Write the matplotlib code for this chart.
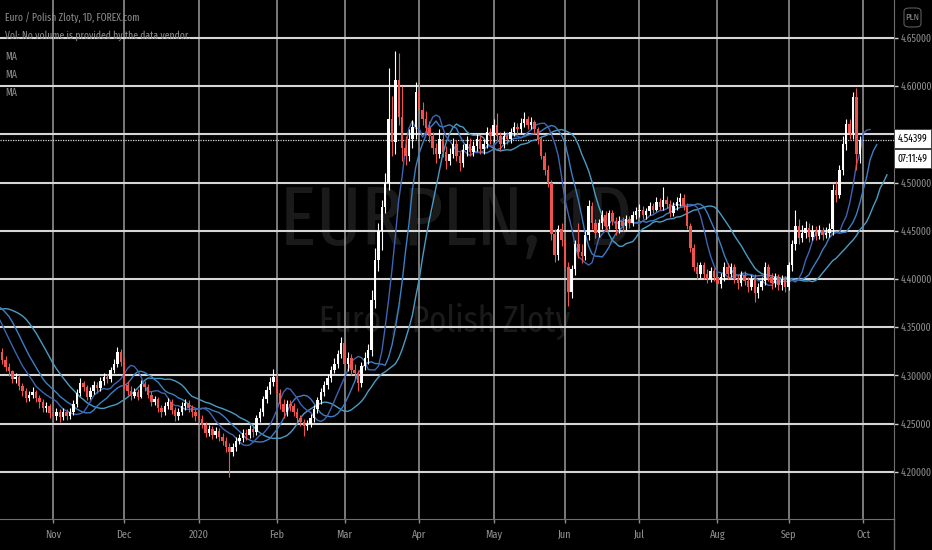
import numpy as np
import pandas as pd
import matplotlib
matplotlib.use('Agg')
import matplotlib.pyplot as plt
from matplotlib.patches import Rectangle, FancyBboxPatch
from matplotlib.lines import Line2D

plt.rcParams['font.family'] = ['Fira Sans Extra Condensed', 'DejaVu Sans']

# closes before the visible window (only feed the moving averages)
history_close = [4.362, 4.366, 4.370, 4.365, 4.362, 4.360, 4.366, 4.372, 4.374, 4.370,
                 4.376, 4.378, 4.372, 4.368, 4.360, 4.352, 4.345, 4.338, 4.330, 4.324]

# visible daily bars, month by month (Oct 11 2019 .. Sep 30 2020)
close_oct = [4.316, 4.309, 4.304, 4.296, 4.298, 4.289, 4.284, 4.276, 4.280, 4.283, 4.276, 4.272, 4.266, 4.268, 4.261]
high_oct = [4.328, 4.320, 4.313, 4.306, 4.302, 4.300, 4.292, 4.287, 4.284, 4.288, 4.285, 4.280, 4.275, 4.272, 4.270]
low_oct = [4.312, 4.305, 4.299, 4.292, 4.292, 4.285, 4.279, 4.272, 4.273, 4.277, 4.272, 4.266, 4.262, 4.262, 4.256]

close_nov = [4.258, 4.262, 4.257, 4.262, 4.258, 4.262, 4.270, 4.282, 4.292, 4.288, 4.278,
             4.284, 4.290, 4.287, 4.294, 4.298, 4.296, 4.306, 4.312, 4.324, 4.314]
high_nov = [4.265, 4.266, 4.265, 4.266, 4.265, 4.266, 4.274, 4.286, 4.297, 4.294, 4.290,
            4.288, 4.294, 4.293, 4.298, 4.302, 4.301, 4.309, 4.317, 4.329, 4.327]
low_nov = [4.253, 4.254, 4.252, 4.254, 4.254, 4.255, 4.259, 4.267, 4.279, 4.284, 4.274,
           4.275, 4.281, 4.282, 4.284, 4.290, 4.292, 4.293, 4.302, 4.309, 4.310]

close_dec = [4.290, 4.284, 4.279, 4.283, 4.278, 4.291, 4.288, 4.280, 4.272, 4.275, 4.266,
             4.262, 4.268, 4.272, 4.264, 4.258, 4.262, 4.268, 4.271, 4.266, 4.262, 4.258]
high_dec = [4.318, 4.294, 4.289, 4.287, 4.286, 4.295, 4.294, 4.291, 4.284, 4.279, 4.278,
            4.269, 4.272, 4.276, 4.275, 4.267, 4.266, 4.272, 4.275, 4.274, 4.269, 4.265]
low_dec = [4.286, 4.280, 4.274, 4.276, 4.274, 4.276, 4.284, 4.276, 4.268, 4.269, 4.262,
           4.257, 4.259, 4.265, 4.260, 4.253, 4.254, 4.259, 4.264, 4.262, 4.257, 4.253]

close_jan = [4.255, 4.248, 4.240, 4.244, 4.238, 4.242, 4.236, 4.232, 4.226, 4.220, 4.226, 4.232,
             4.235, 4.240, 4.238, 4.244, 4.241, 4.256, 4.262, 4.275, 4.285, 4.293, 4.298]
high_jan = [4.262, 4.259, 4.252, 4.248, 4.247, 4.246, 4.245, 4.240, 4.236, 4.230, 4.230, 4.236,
            4.239, 4.244, 4.244, 4.248, 4.247, 4.259, 4.266, 4.279, 4.289, 4.298, 4.307]
low_jan = [4.250, 4.245, 4.236, 4.237, 4.234, 4.235, 4.232, 4.228, 4.221, 4.195, 4.216, 4.222,
           4.229, 4.231, 4.233, 4.235, 4.236, 4.238, 4.252, 4.258, 4.271, 4.281, 4.289]

close_feb = [4.282, 4.270, 4.262, 4.270, 4.268, 4.262, 4.256, 4.252, 4.247, 4.250,
             4.256, 4.265, 4.274, 4.283, 4.290, 4.297, 4.306, 4.312, 4.322, 4.334]
high_feb = [4.302, 4.286, 4.275, 4.274, 4.274, 4.271, 4.266, 4.259, 4.255, 4.254,
            4.260, 4.269, 4.278, 4.287, 4.294, 4.301, 4.310, 4.318, 4.326, 4.340]
low_feb = [4.278, 4.265, 4.256, 4.258, 4.263, 4.258, 4.251, 4.247, 4.237, 4.243,
           4.246, 4.252, 4.261, 4.270, 4.279, 4.286, 4.293, 4.302, 4.308, 4.318]

close_mar = [4.312, 4.318, 4.306, 4.302, 4.292, 4.310, 4.318, 4.326, 4.378, 4.420, 4.450,
             4.475, 4.500, 4.566, 4.542, 4.606, 4.568, 4.536, 4.528, 4.545, 4.558, 4.594]
high_mar = [4.339, 4.324, 4.322, 4.312, 4.306, 4.314, 4.324, 4.332, 4.388, 4.432, 4.458,
            4.482, 4.510, 4.619, 4.590, 4.636, 4.634, 4.600, 4.548, 4.556, 4.565, 4.604]
low_mar = [4.306, 4.305, 4.300, 4.296, 4.284, 4.288, 4.306, 4.312, 4.320, 4.370, 4.408,
           4.430, 4.468, 4.492, 4.528, 4.530, 4.560, 4.522, 4.518, 4.522, 4.536, 4.545]

close_apr = [4.575, 4.566, 4.557, 4.548, 4.536, 4.530, 4.545, 4.532, 4.522, 4.530, 4.540,
             4.528, 4.520, 4.534, 4.540, 4.532, 4.538, 4.545, 4.535, 4.540, 4.552, 4.548]
high_apr = [4.604, 4.584, 4.574, 4.564, 4.552, 4.541, 4.556, 4.550, 4.538, 4.536, 4.546,
            4.544, 4.532, 4.540, 4.548, 4.546, 4.543, 4.550, 4.549, 4.545, 4.558, 4.557]
low_apr = [4.570, 4.560, 4.552, 4.542, 4.530, 4.520, 4.525, 4.526, 4.514, 4.518, 4.525,
           4.522, 4.512, 4.516, 4.528, 4.527, 4.528, 4.533, 4.530, 4.530, 4.536, 4.540]

close_may = [4.560, 4.548, 4.540, 4.548, 4.545, 4.552, 4.558, 4.556, 4.562, 4.566, 4.560,
             4.563, 4.556, 4.545, 4.528, 4.513, 4.500, 4.447, 4.425, 4.452, 4.440]
high_may = [4.566, 4.572, 4.552, 4.553, 4.552, 4.557, 4.563, 4.562, 4.567, 4.573, 4.569,
            4.568, 4.565, 4.558, 4.548, 4.532, 4.518, 4.503, 4.452, 4.456, 4.458]
low_may = [4.542, 4.544, 4.533, 4.536, 4.540, 4.541, 4.548, 4.550, 4.551, 4.558, 4.555,
           4.556, 4.550, 4.540, 4.524, 4.508, 4.495, 4.440, 4.418, 4.420, 4.434]

close_jun = [4.412, 4.386, 4.410, 4.436, 4.428, 4.424, 4.446, 4.476, 4.458, 4.448, 4.458,
             4.466, 4.455, 4.468, 4.460, 4.452, 4.460, 4.455, 4.462, 4.458, 4.466, 4.470]
high_jun = [4.445, 4.418, 4.414, 4.440, 4.458, 4.436, 4.450, 4.482, 4.480, 4.462, 4.462,
            4.472, 4.470, 4.472, 4.471, 4.464, 4.465, 4.464, 4.466, 4.465, 4.470, 4.475]
low_jun = [4.408, 4.372, 4.380, 4.404, 4.422, 4.416, 4.420, 4.440, 4.452, 4.442, 4.444,
           4.452, 4.450, 4.452, 4.456, 4.446, 4.448, 4.450, 4.451, 4.453, 4.455, 4.462]

close_jul = [4.472, 4.466, 4.470, 4.476, 4.472, 4.480, 4.475, 4.482, 4.478, 4.468, 4.476, 4.480,
             4.484, 4.476, 4.455, 4.432, 4.412, 4.405, 4.414, 4.405, 4.400, 4.408, 4.402]
high_jul = [4.478, 4.476, 4.474, 4.480, 4.479, 4.485, 4.484, 4.495, 4.486, 4.482, 4.480, 4.485,
            4.489, 4.488, 4.479, 4.458, 4.436, 4.418, 4.418, 4.418, 4.410, 4.412, 4.411]
low_jul = [4.464, 4.462, 4.462, 4.466, 4.468, 4.470, 4.471, 4.472, 4.474, 4.464, 4.465, 4.472,
           4.476, 4.472, 4.452, 4.428, 4.408, 4.400, 4.401, 4.400, 4.396, 4.397, 4.398]

close_aug = [4.395, 4.402, 4.412, 4.405, 4.412, 4.400, 4.396, 4.404, 4.398, 4.392, 4.400,
             4.385, 4.392, 4.398, 4.412, 4.402, 4.396, 4.402, 4.394, 4.400, 4.392]
high_aug = [4.406, 4.406, 4.418, 4.416, 4.416, 4.415, 4.405, 4.408, 4.408, 4.402, 4.404,
            4.405, 4.396, 4.402, 4.418, 4.415, 4.406, 4.406, 4.405, 4.404, 4.403]
low_aug = [4.390, 4.391, 4.398, 4.400, 4.402, 4.396, 4.390, 4.393, 4.394, 4.386, 4.388,
           4.376, 4.380, 4.388, 4.394, 4.398, 4.390, 4.392, 4.389, 4.389, 4.386]

close_sep = [4.414, 4.436, 4.455, 4.442, 4.448, 4.453, 4.444, 4.450, 4.445, 4.451, 4.446,
             4.448, 4.452, 4.492, 4.487, 4.513, 4.540, 4.561, 4.551, 4.589, 4.530, 4.54399]
high_sep = [4.418, 4.440, 4.471, 4.462, 4.456, 4.460, 4.458, 4.456, 4.455, 4.456, 4.454,
            4.454, 4.458, 4.498, 4.502, 4.518, 4.548, 4.566, 4.566, 4.594, 4.598, 4.548]
low_sep = [4.388, 4.408, 4.430, 4.436, 4.438, 4.442, 4.438, 4.440, 4.440, 4.441, 4.440,
           4.442, 4.444, 4.446, 4.480, 4.484, 4.508, 4.534, 4.545, 4.545, 4.513, 4.520]

price_ticks = [4.20, 4.25, 4.30, 4.35, 4.40, 4.45, 4.50, 4.55, 4.60, 4.65]
last_price = 4.54399
countdown = "07:11:49"

# alligator style moving averages: (period, forward shift, colour)
ma_specs = [(13, 8, '#4a9cc4'), (8, 5, '#3b7fc4'), (5, 3, '#3f64b2')]

months = [close_oct, close_nov, close_dec, close_jan, close_feb, close_mar,
          close_apr, close_may, close_jun, close_jul, close_aug, close_sep]
highs_m = [high_oct, high_nov, high_dec, high_jan, high_feb, high_mar,
           high_apr, high_may, high_jun, high_jul, high_aug, high_sep]
lows_m = [low_oct, low_nov, low_dec, low_jan, low_feb, low_mar,
          low_apr, low_may, low_jun, low_jul, low_aug, low_sep]

vis_close = np.array(sum(months, []))
vis_high = np.array(sum(highs_m, []))
vis_low = np.array(sum(lows_m, []))
close = np.concatenate([history_close, vis_close])
n_hist = len(history_close)
vis_open = close[n_hist - 1:-1]

axis_dates = pd.bdate_range('2019-09-13', '2020-10-30')
idx = np.arange(len(close))
x = idx[n_hist:]

BG = '#000000'
GREY = '#8c8c8c'
fig = plt.figure(figsize=(9.32, 5.5), dpi=100, facecolor=BG)
ax = fig.add_axes([0, 31.3 / 550, 894 / 932, 1 - 31.3 / 550])
ax.set_facecolor(BG)

# x scale: Nov 1 2019 sits 53 px from the left, 3.39 px per bar
nov1 = int(np.where(axis_dates == pd.Timestamp('2019-11-01'))[0][0])
ax.set_xlim(nov1 - 53 / 3.39, nov1 + (894 - 53) / 3.39)
ax.set_ylim(4.1513, 4.6893)

# watermark
ax.text(0.51, 0.528, "EURPLN, 1D", transform=ax.transAxes, fontsize=60,
        color='#1a1a1a', ha='center', va='baseline', zorder=0)
ax.text(0.497, 0.36, "Euro / Polish Zloty", transform=ax.transAxes, fontsize=26,
        color='#1a1a1a', ha='center', va='baseline', zorder=0)

# month ticks
firsts = pd.Series(np.arange(len(axis_dates)), index=axis_dates).groupby(
    [axis_dates.year, axis_dates.month]).first()
lo_x, hi_x = ax.get_xlim()
tick_pos, tick_lab = [], []
for (yr, mo), pos in firsts.items():
    if lo_x < pos < hi_x:
        tick_pos.append(pos)
        tick_lab.append(str(yr) if mo == 1 else pd.Timestamp(yr, mo, 1).strftime('%b'))
ax.set_xticks(tick_pos)
ax.set_xticklabels(tick_lab)
for p in tick_pos:
    ax.axvline(p, color='#9a9a9a', lw=1.1, zorder=1)

# the 4.55 label sits under the last-price box, so it is left blank
ax.set_yticks(price_ticks)
ax.set_yticklabels(['' if abs(v - 4.55) < 1e-9 else '%.5f' % v for v in price_ticks])
for v in price_ticks:
    ax.axhline(v, color='#d6d6d6', lw=1.5, zorder=1)

ax.yaxis.tick_right()
ax.tick_params(axis='y', colors='#d0d0d0', labelcolor=GREY, labelsize=7.5,
               length=3, pad=1.5, width=1)
ax.tick_params(axis='x', colors=GREY, labelcolor=GREY, labelsize=8,
               length=3, pad=5, width=1)
for s in ['top', 'left']:
    ax.spines[s].set_visible(False)
ax.spines['bottom'].set_color('#6e6e6e')
ax.spines['right'].set_color('#6e6e6e')
fig.add_artist(Line2D([894 / 932, 894 / 932], [0, 31.3 / 550], color='#6e6e6e',
                      lw=1, transform=fig.transFigure))

# last price line
ax.axhline(last_price, color='#d8d8d8', lw=0.9, ls=(0, (1, 1)), zorder=2)

# moving averages (simple, shifted forward)
s = pd.Series(close)
for period, shift, col in ma_specs:
    ma = s.rolling(period, min_periods=1).mean()
    ax.plot(idx + shift, ma.values, color=col, lw=1.0, zorder=3)

# candles
up = vis_close >= vis_open
cols = np.where(up, '#ffffff', '#ef5350')
ax.vlines(x, vis_low, vis_high, colors=cols, lw=0.8, zorder=4)
body = np.maximum(np.abs(vis_close - vis_open), 0.0008)
ax.bar(x, body, bottom=np.minimum(vis_open, vis_close), width=0.72,
       color=cols, linewidth=0, zorder=5)

# header texts
hdr = dict(color=GREY, fontsize=7.5, ha='left', va='center')
fig.text(5 / 932, 1 - 18 / 550, "Euro / Polish Zloty, 1D, FOREX.com", **hdr)
fig.text(5 / 932, 1 - 36 / 550, "Vol: No volume is provided by the data vendor.", **hdr)
for yy in (57, 75, 93):
    fig.text(5 / 932, 1 - yy / 550, "MA", **hdr)

# price and countdown labels on the scale
fig.add_artist(Rectangle((894 / 932, 1 - 148 / 550), 37 / 932, 19 / 550,
                         transform=fig.transFigure, facecolor='#ffffff',
                         edgecolor='#3a3a3a', lw=0.6))
fig.text(912.5 / 932, 1 - 138.5 / 550, '%.5f' % last_price, color='#000000',
         fontsize=7.5, ha='center', va='center')
fig.add_artist(Rectangle((894 / 932, 1 - 168 / 550), 37 / 932, 19 / 550,
                         transform=fig.transFigure, facecolor='#ffffff',
                         edgecolor='#3a3a3a', lw=0.6))
fig.text(912.5 / 932, 1 - 158.5 / 550, countdown, color='#000000',
         fontsize=7.5, ha='center', va='center')

fig.add_artist(FancyBboxPatch((904 / 932, 1 - 27 / 550), 17 / 932, 19 / 550,
                              boxstyle='round,pad=0,rounding_size=0.006',
                              transform=fig.transFigure, facecolor='none',
                              edgecolor='#5a5a5a', lw=0.8))
fig.text(912.5 / 932, 1 - 17.5 / 550, "PLN", color=GREY, fontsize=7,
         ha='center', va='center')

fig.savefig('out.png', dpi=100, facecolor=BG)
